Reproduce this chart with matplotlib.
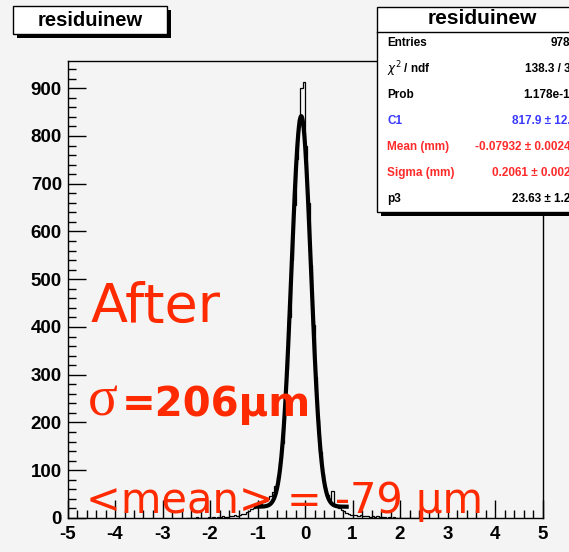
import matplotlib.pyplot as plt
import numpy as np
from matplotlib.patches import Rectangle
from matplotlib.ticker import MultipleLocator

W, H = 569, 552
bg = '#f4f4f4'

# residuals histogram, 0.05 wide bins between -2.5 and 2.5
edges = np.linspace(-2.5, 2.5, 101)
counts = [
    0, 0, 1, 0, 2, 0, 1, 1, 0, 2,
    1, 2, 1, 3, 2, 4, 3, 3, 5, 4,
    6, 5, 7, 8, 9, 12, 15, 18, 21, 24,
    27, 30, 33, 36, 40, 46, 55, 68, 88, 115,
    158, 220, 312, 420, 540, 655, 752, 835, 900, 913,
    780, 660, 530, 405, 296, 205, 138, 92, 64, 48,
    38, 57, 30, 24, 20, 17, 14, 11, 8, 7,
    6, 7, 5, 6, 4, 5, 4, 3, 5, 3,
    4, 2, 3, 2, 1, 2, 1, 2, 1, 0,
    1, 0, 0, 1, 0, 0, 0, 1, 0, 0,
]

# gaus + constant fit result
C1 = 817.9
mean = -0.07932
sigma = 0.2061
p3 = 23.63
fit_lo, fit_hi = mean - 1.0, mean + 1.0

stat_names = ['Entries', r'$\chi^2$ / ndf', 'Prob', 'C1', 'Mean (mm)', 'Sigma (mm)', 'p3']
stat_values = ['9785', '138.3 / 38', '1.178e-13', '817.9 \u00b1 12.3',
               '-0.07932 \u00b1 0.00246', '0.2061 \u00b1 0.0024', '23.63 \u00b1 1.21']
stat_colors = ['black', 'black', 'black', '#3a3aff', '#ff2b2b', '#ff2b2b', 'black']

plt.rcParams['font.family'] = ['Liberation Sans', 'DejaVu Sans']
plt.rcParams['axes.unicode_minus'] = False

fig = plt.figure(figsize=(W / 100, H / 100), dpi=100, facecolor=bg)
ax = fig.add_axes([67.5 / W, 1 - 518 / H, 475 / W, 457 / H], facecolor=bg)

ax.stairs(counts, edges, color='black', lw=0.9, baseline=None)
xf = np.linspace(fit_lo, fit_hi, 400)
yf = C1 * np.exp(-0.5 * ((xf - mean) / sigma) ** 2) + p3
ax.plot(xf, yf, color='black', lw=3.0, solid_capstyle='butt')

ax.set_xlim(-5, 5)
ax.set_ylim(0, 957)
ax.xaxis.set_major_locator(MultipleLocator(1))
ax.xaxis.set_minor_locator(MultipleLocator(0.2))
ax.yaxis.set_major_locator(MultipleLocator(100))
ax.yaxis.set_minor_locator(MultipleLocator(20))
ax.tick_params(which='both', direction='in', top=False, right=False, width=1, colors='black')
ax.tick_params(which='major', length=13)
ax.tick_params(which='minor', length=6)
ax.tick_params(axis='y', pad=4)
ax.tick_params(axis='x', pad=6)
for lab in ax.get_xticklabels() + ax.get_yticklabels():
    lab.set_fontsize(13.5)
    lab.set_fontweight('bold')
for s in ax.spines.values():
    s.set_linewidth(1)


def box(x0, y0, x1, y1, shadow=4, **kw):
    # rectangle given in pixel coordinates from the top-left corner
    if shadow:
        fig.add_artist(Rectangle(((x0 + shadow) / W, 1 - (y1 + shadow) / H),
                                 (x1 - x0) / W, (y1 - y0) / H,
                                 transform=fig.transFigure, facecolor='black',
                                 edgecolor='none'))
    fig.add_artist(Rectangle((x0 / W, 1 - y1 / H), (x1 - x0) / W, (y1 - y0) / H,
                             transform=fig.transFigure, facecolor='white',
                             edgecolor='black', lw=1, **kw))


def ftext(x, y, s, **kw):
    fig.text(x / W, 1 - y / H, s, **kw)


# title box
box(13, 6, 167, 34)
ftext(90, 20, 'residuinew', fontsize=14.5, fontweight='bold', ha='center', va='center')

# statistics box
box(377, 7, 600, 212, shadow=4)
fig.add_artist(plt.Line2D([377 / W, 1], [1 - 32 / H, 1 - 32 / H],
                          transform=fig.transFigure, color='black', lw=1))
ftext(482, 19, 'residuinew', fontsize=15, fontweight='bold', ha='center', va='center')
for i, (n, v, c) in enumerate(zip(stat_names, stat_values, stat_colors)):
    y = 43 + i * 26
    ftext(387, y, n, fontsize=8.5, fontweight='bold', color=c, ha='left', va='center')
    ftext(577, y, v, fontsize=8.5, fontweight='bold', color=c, ha='right', va='center')

# hand-written annotations
red = '#ff2a00'
ftext(91, 322, 'After', fontsize=39, color=red, family='DejaVu Sans', ha='left', va='baseline')
ftext(88, 416, '\u03c3', fontsize=40, color=red, family='Liberation Serif', ha='left', va='baseline')
ftext(122, 416, '=206\u03bcm', fontsize=29, color=red, family='DejaVu Sans',
      fontweight='bold', ha='left', va='baseline')
ftext(86, 513, '<mean> = -79 \u03bcm', fontsize=30, color=red, family='DejaVu Sans',
      ha='left', va='baseline')

fig.savefig('out.png', dpi=100, facecolor=bg)
